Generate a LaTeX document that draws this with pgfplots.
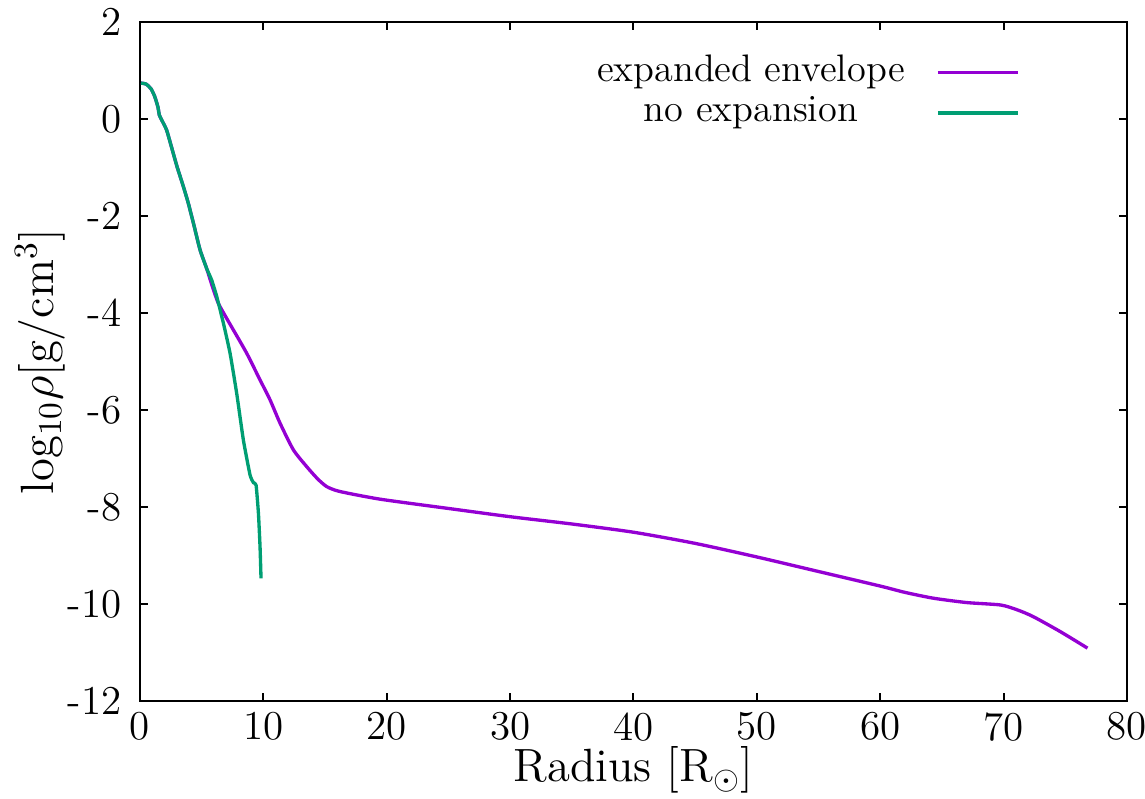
\documentclass[border=0pt]{standalone}
\usepackage{fontspec}
\usepackage{pgfplots}
\pgfplotsset{compat=1.18}
\definecolor{cpurple}{HTML}{9400D3}
\definecolor{cgreen}{HTML}{009E73}
\begin{document}
\begin{tikzpicture}
\useasboundingbox (-42pt,-29.1pt) rectangle (301.5pt,210.3pt);
\begin{axis}[
  at={(0,0)}, anchor=south west,
  scale only axis, width=296.1pt, height=203.7pt,
  xmin=0, xmax=80, ymin=-12, ymax=2,
  xtick={0,10,...,80},
  xticklabels={0,10,20,30,40,50,60,70,80},
  ytick={-12,-10,...,2},
  yticklabels={-12,-10,-8,-6,-4,-2,0,2},
  tick align=inside,
  major tick length=2.4pt,
  tick style={black, line width=0.6pt},
  axis line style={line width=0.6pt},
  tick label style={font=\fontsize{12.3}{14}\selectfont, inner sep=0pt},
  xticklabel style={yshift=-3.3pt},
  yticklabel style={xshift=-5.4pt},
  xlabel={Radius [R$_\odot$]},
  ylabel={log$_{10}\rho$[g/cm$^3$]},
  label style={font=\fontsize{14}{16}\selectfont, inner sep=0pt},
  xlabel style={at={(axis description cs:0.5,-0.119)}, anchor=base},
  ylabel style={at={(axis description cs:-0.101,0.5)}, anchor=center},
]
\addplot[cpurple, line width=1pt, smooth, tension=0.4] coordinates {
(0.08,0.74) (0.5,0.72) (0.9,0.62) (1.2,0.46) (1.45,0.25) (1.57,0.08) (1.8,-0.04) (2.16,-0.23)
(2.6,-0.62) (3.0,-0.98) (3.5,-1.38) (3.92,-1.74) (4.4,-2.22) (4.87,-2.70) (5.4,-3.08) (5.9,-3.48)
(6.35,-3.80) (7.0,-4.10) (7.57,-4.35) (8.65,-4.83) (9.73,-5.38) (10.54,-5.79) (11.35,-6.27)
(12.43,-6.82) (13.52,-7.17) (14.4,-7.42) (15.14,-7.58) (16.2,-7.68) (19.5,-7.84) (25,-8.03)
(30,-8.2) (35,-8.35) (40,-8.52) (45,-8.75) (50,-9.03) (55,-9.33) (60,-9.63) (62,-9.76)
(64.3,-9.88) (67,-9.97) (69.75,-10.02) (71.1,-10.12) (72.4,-10.26) (74.6,-10.57) (76.8,-10.91)
};
\addplot[cgreen, line width=1pt, smooth, tension=0.3] coordinates {
(0.08,0.74) (0.5,0.72) (0.9,0.62) (1.2,0.46) (1.45,0.25) (1.57,0.08) (1.8,-0.04) (2.16,-0.23)
(2.6,-0.62) (3.0,-0.98) (3.5,-1.38) (3.92,-1.74) (4.4,-2.22) (4.87,-2.70) (5.4,-3.08) (5.81,-3.32)
(6.22,-3.66) (6.76,-4.21) (7.30,-4.83) (7.84,-5.66) (8.38,-6.62) (8.92,-7.34) (9.2,-7.50)
(9.41,-7.55) (9.60,-8.13) (9.73,-8.82) (9.81,-9.47)
};
\node[anchor=center, font=\fontsize{11.5}{13}\selectfont] at (axis description cs:0.619,0.926) {expanded envelope};
\node[anchor=center, font=\fontsize{11.5}{13}\selectfont] at (axis description cs:0.619,0.866) {no expansion};
\draw[cpurple, line width=1pt] (axis description cs:0.8085,0.926) -- (axis description cs:0.8896,0.926);
\draw[cgreen, line width=1pt] (axis description cs:0.8085,0.866) -- (axis description cs:0.8896,0.866);
\end{axis}
\end{tikzpicture}
\end{document}
